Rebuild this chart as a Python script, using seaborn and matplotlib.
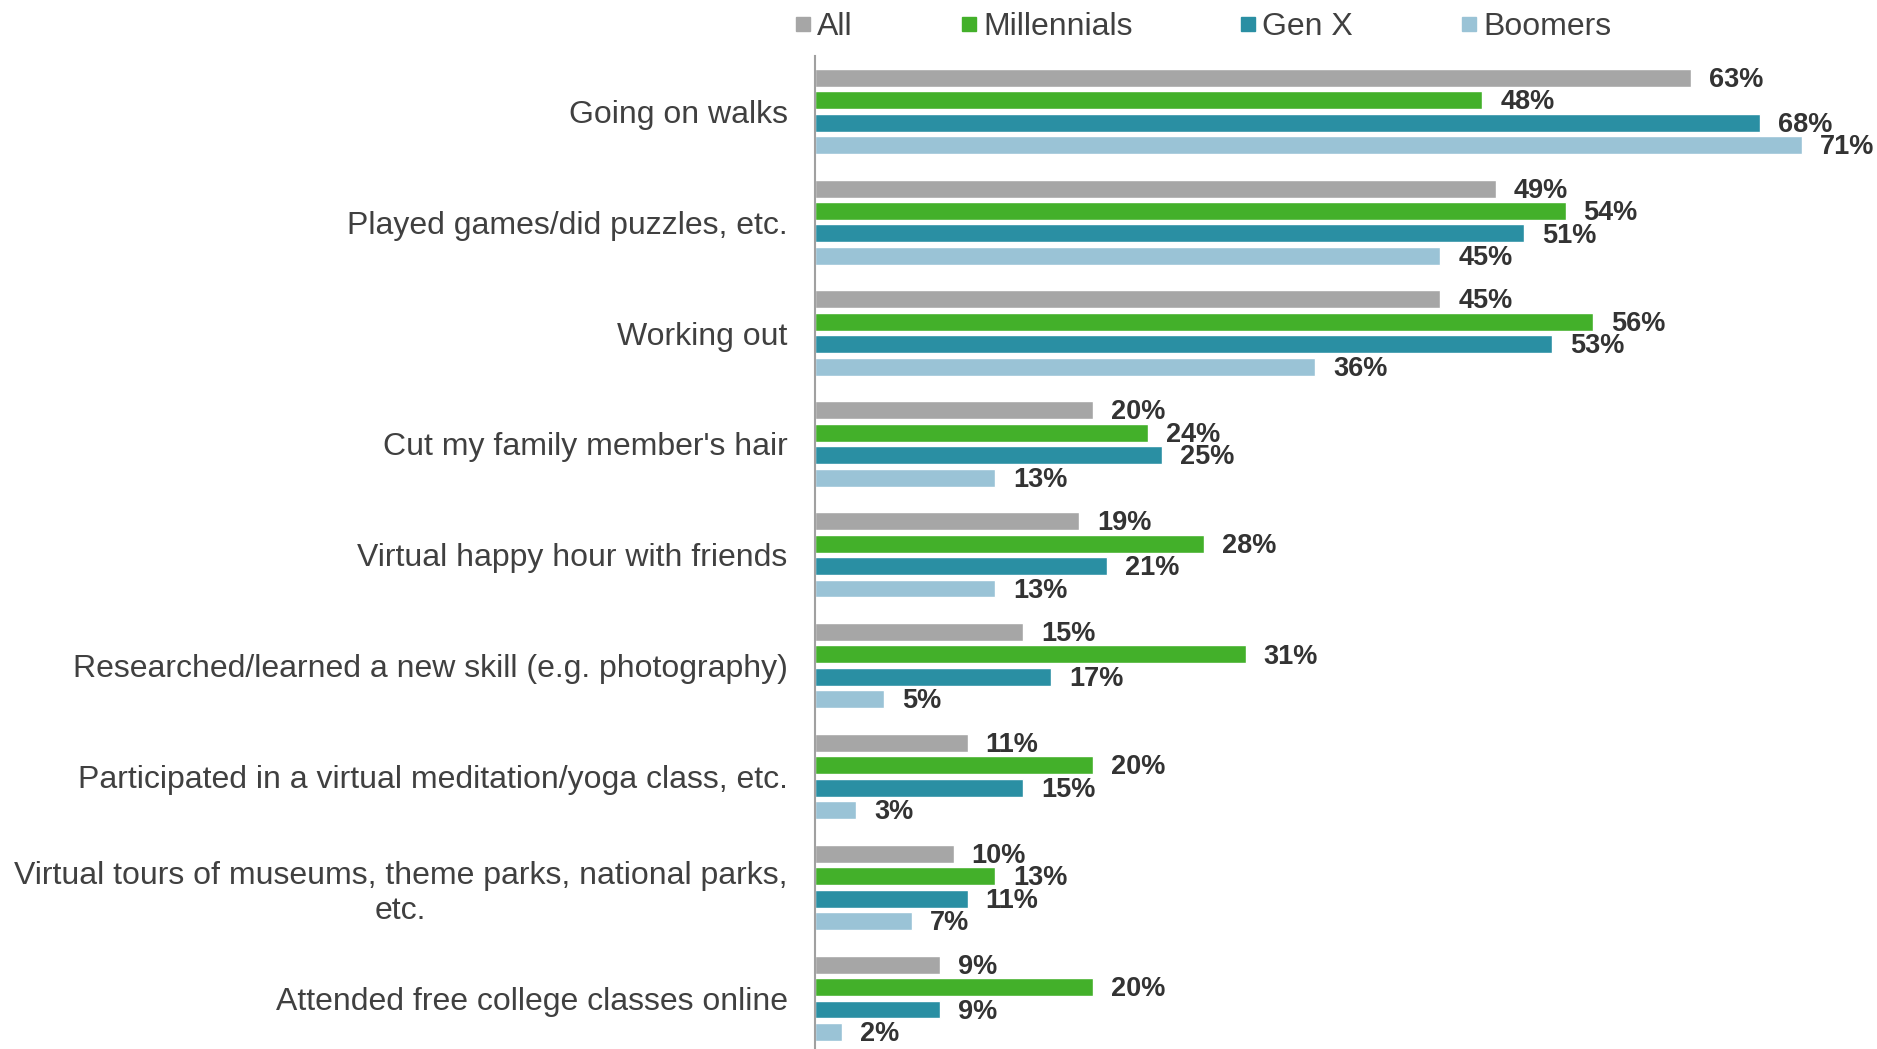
import matplotlib
matplotlib.use("Agg")
import matplotlib.pyplot as plt
from matplotlib.lines import Line2D
import seaborn as sns
import pandas as pd

# Activities and share of each generation that did them
activities = [
    "Going on walks",
    "Played games/did puzzles, etc.",
    "Working out",
    "Cut my family member's hair",
    "Virtual happy hour with friends",
    "Researched/learned a new skill (e.g. photography)",
    "Participated in a virtual meditation/yoga class, etc.",
    "Virtual tours of museums, theme parks, national parks,\netc.",
    "Attended free college classes online",
]
groups = ["All", "Millennials", "Gen X", "Boomers"]
all_vals = [63, 49, 45, 20, 19, 15, 11, 10, 9]
millennials_vals = [48, 54, 56, 24, 28, 31, 20, 13, 20]
genx_vals = [68, 51, 53, 25, 21, 17, 15, 11, 9]
boomers_vals = [71, 45, 36, 13, 13, 5, 3, 7, 2]
colors = ["#A6A6A6", "#43B02A", "#2A8FA3", "#9AC3D6"]

series = [all_vals, millennials_vals, genx_vals, boomers_vals]
df = pd.DataFrame(
    [(a, g, v) for g, vals in zip(groups, series) for a, v in zip(activities, vals)],
    columns=["activity", "group", "value"],
)

sns.set_theme(style="white")
plt.rcParams["font.family"] = ["Liberation Sans", "DejaVu Sans"]

fig = plt.figure(figsize=(18.77, 10.49), dpi=100)
ax = fig.add_axes([0.434, -0.0045, 0.566, 0.9512])

sns.barplot(
    data=df, y="activity", x="value", hue="group",
    order=activities, hue_order=groups, palette=colors,
    orient="h", width=0.81, gap=0.2, dodge=True,
    saturation=1, legend=False, ax=ax,
)

ax.set_xlim(0, 76.4)
ax.set_ylim(len(activities) - 0.5, -0.5)
ax.set_xlabel("")
ax.set_ylabel("")
ax.set_xticks([])

for s in ["top", "right", "bottom"]:
    ax.spines[s].set_visible(False)
ax.spines["left"].set_color("#A0A0A0")
ax.spines["left"].set_linewidth(1.5)

ax.tick_params(axis="y", length=0, pad=19.5, labelsize=23, labelcolor="#404040")
for lbl in ax.get_yticklabels():
    lbl.set_multialignment("center")

for container, vals in zip(ax.containers, series):
    anns = ax.bar_label(
        container, labels=[f"{v}%" for v in vals], padding=13,
        fontsize=19.5, fontweight="bold", color="#333333",
    )
    for ann in anns:
        ann.xyann = (13, -1.5)

handles = [
    Line2D([], [], marker="s", linestyle="", markersize=10.5, color=c)
    for c in colors
]
fig.legend(
    handles, groups, loc="center", bbox_to_anchor=(0.641, 0.9745),
    ncol=4, frameon=False, fontsize=23, labelcolor="#404040",
    handlelength=0.5, handletextpad=0.2, columnspacing=3.37,
    borderpad=0, borderaxespad=0,
)

fig.savefig("out.png", dpi=100)
